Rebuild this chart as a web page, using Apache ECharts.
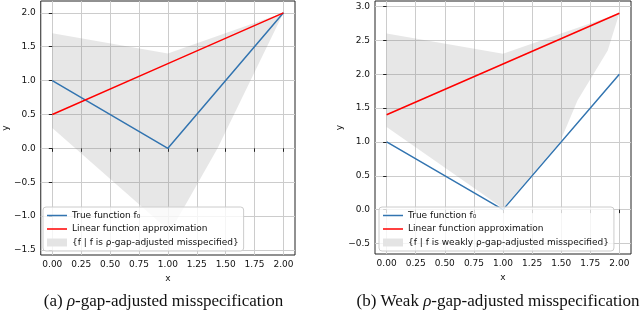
<!DOCTYPE html>
<html><head><meta charset="utf-8">
<script src="https://cdn.jsdelivr.net/npm/echarts@6/dist/echarts.min.js"></script>
<style>html,body{margin:0;padding:0;background:#fff}#c{width:640px;height:318px}</style>
</head><body><div id="c"></div>
<script>
// ---- data ----
const xTicks = [0, 0.25, 0.5, 0.75, 1, 1.25, 1.5, 1.75, 2];
const yTicksA = [-1.5, -1, -0.5, 0, 0.5, 1, 1.5, 2];
const yTicksB = [-0.5, 0, 0.5, 1, 1.5, 2, 2.5, 3];
const xKnots = [0, 1, 2];
const trueF = [1, 0, 2];
const linearA = [0.5, 1.25, 2];
const linearB = [1.4, 2.15, 2.9];
const bandUpperA = [[0, 1.7], [1, 1.4], [2, 2.0]];
const bandLowerA = [[0, 0.3], [1.02, -1.23], [1.43, 0], [2, 2.0]];
const bandUpperB = [[0, 2.6], [1, 2.3], [2, 2.9]];
const bandLowerB = [[0, 1.22], [1, 0.02], [1.49, 1.0], [1.64, 1.61], [1.9, 2.35], [2, 2.9]];
const nameTrue = 'True function f\u2080';
const nameLin = 'Linear function approximation';
const nameBandA = '{f | f is \u03c1-gap-adjusted misspecified}';
const nameBandB = '{f | f is weakly \u03c1-gap-adjusted misspecified}';

// ---- chart ----
const FONT = '"DejaVu Sans", sans-serif';
const SERIF = '"Liberation Serif", serif';
const BLUE = '#3274b0', RED = '#ff0000', BAND = 'rgba(128,128,128,0.19)';
const LINE_ICON = 'path://M0,0 L40,0 L40,3 L0,3 Z';
const fmtNum = d => v => (v < 0 ? '\u2212' : '') + Math.abs(v).toFixed(d);

function xAxis(gi) {
  return {
    type: 'value', gridIndex: gi, min: -0.1, max: 2.1,
    name: 'x', nameLocation: 'middle', nameGap: 17,
    nameTextStyle: {fontFamily: FONT, fontSize: 9, color: '#111'},
    axisLine: {show: false},
    axisTick: {show: true, length: 3.5, customValues: xTicks, lineStyle: {color: '#222'}},
    axisLabel: {customValues: xTicks, formatter: fmtNum(2), fontFamily: FONT, fontSize: 9, color: '#111', margin: 5},
    splitLine: {show: true, lineStyle: {color: '#cccccc', width: 1}}
  };
}
function yAxis(gi, min, max, ticks) {
  return {
    type: 'value', gridIndex: gi, min: min, max: max,
    name: 'y', nameLocation: 'middle', nameGap: 27,
    nameTextStyle: {fontFamily: FONT, fontSize: 9, color: '#111'},
    axisLine: {show: false},
    axisTick: {show: true, length: 3.5, customValues: ticks, lineStyle: {color: '#222'}},
    axisLabel: {customValues: ticks, formatter: fmtNum(1), fontFamily: FONT, fontSize: 9, color: '#111', margin: 5},
    splitLine: {show: true, lineStyle: {color: '#cccccc', width: 1}}
  };
}
function bandSeries(name, upper, lower, gi) {
  const pts = upper.concat(lower.slice().reverse());
  return {
    type: 'custom', name: name, xAxisIndex: gi, yAxisIndex: gi, z: 1, silent: true,
    data: pts, encode: {x: 0, y: 1},
    itemStyle: {color: '#e4e4e4'},
    renderItem: function (params, api) {
      if (params.dataIndex !== 0) return null;
      return {type: 'polygon', shape: {points: pts.map(p => api.coord(p))}, style: {fill: BAND}};
    }
  };
}
function lineSeries(name, ys, color, gi) {
  return {
    type: 'line', name: name, xAxisIndex: gi, yAxisIndex: gi, z: 3,
    data: xKnots.map((x, i) => [x, ys[i]]), symbol: 'none', showSymbol: false, animation: false,
    lineStyle: {color: color, width: 1.5}, itemStyle: {color: color}
  };
}
function legend(left, bandName) {
  return {
    orient: 'vertical', left: left, top: 207, padding: [3, 5, 3, 4], itemGap: 2.5,
    itemWidth: 20, itemHeight: 8, symbolKeepAspect: true, backgroundColor: 'rgba(255,255,255,0.8)',
    borderColor: '#cccccc', borderWidth: 1, borderRadius: 3,
    textStyle: {fontFamily: FONT, fontSize: 9, color: '#111', lineHeight: 11},
    selectedMode: false,
    data: [{name: nameTrue, icon: LINE_ICON}, {name: nameLin, icon: LINE_ICON}, {name: bandName, icon: 'rect'}]
  };
}

const chart = echarts.init(document.getElementById('c'), null, {renderer: 'canvas'});
chart.setOption({
  animation: false,
  backgroundColor: '#fff',
  grid: [
    {left: 39, top: 1, width: 256, height: 254, show: true, borderColor: '#222', borderWidth: 1, backgroundColor: 'transparent'},
    {left: 375, top: 1, width: 256, height: 253, show: true, borderColor: '#222', borderWidth: 1, backgroundColor: 'transparent'}
  ],
  xAxis: [xAxis(0), xAxis(1)],
  yAxis: [yAxis(0, -1.575, 2.175, yTicksA), yAxis(1, -0.655, 3.08, yTicksB)],
  legend: [legend(43, nameBandA), legend(379, nameBandB)],
  series: [
    bandSeries(nameBandA, bandUpperA, bandLowerA, 0),
    lineSeries(nameTrue, trueF, BLUE, 0),
    lineSeries(nameLin, linearA, RED, 0),
    bandSeries(nameBandB, bandUpperB, bandLowerB, 1),
    lineSeries(nameTrue, trueF, BLUE, 1),
    lineSeries(nameLin, linearB, RED, 1)
  ],
  graphic: [
    {type: 'text', x: 163.5, y: 302, style: {
      text: '{n|(a) }{r|\u03c1}{n|-gap-adjusted misspecification}', align: 'center', verticalAlign: 'middle',
      rich: {n: {fontFamily: SERIF, fontSize: 17, fill: '#111'},
             r: {fontFamily: SERIF, fontSize: 17, fontStyle: 'italic', fill: '#111'}}}},
    {type: 'text', x: 498, y: 302, style: {
      text: '{n|(b) Weak }{r|\u03c1}{n|-gap-adjusted misspecification}', align: 'center', verticalAlign: 'middle',
      rich: {n: {fontFamily: SERIF, fontSize: 17, fill: '#111'},
             r: {fontFamily: SERIF, fontSize: 17, fontStyle: 'italic', fill: '#111'}}}}
  ]
});
</script></body></html>
